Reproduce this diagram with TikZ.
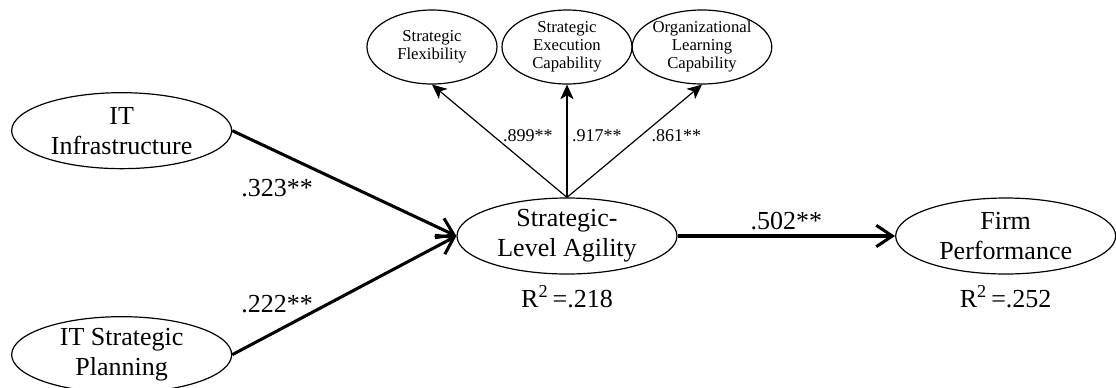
\documentclass[tikz,border=0pt]{standalone}
\usepackage{fontspec}
\setmainfont{Liberation Serif}
\usetikzlibrary{shapes.geometric,arrows.meta,positioning}

\begin{document}
\begin{tikzpicture}[on grid,
	construct/.style={ellipse,draw,line width=0.9pt,inner sep=0pt,minimum width=165pt,minimum height=57pt,align=center,font=\fontsize{19.5}{22.5}\selectfont},
	dimension/.style={ellipse,draw,line width=0.9pt,inner sep=0pt,minimum width=97.5pt,minimum height=55.5pt,align=center,font=\fontsize{12.5}{13.5}\selectfont},
	effect/.style={line width=2.3pt,-{Straight Barb[length=12pt,width=16pt]}},
	loading/.style={line width=0.9pt,-{Stealth[length=11pt,width=10pt,inset=3pt]}},
	coef/.style={font=\fontsize{19.5}{22}\selectfont},
	smallcoef/.style={font=\fontsize{13.5}{15}\selectfont}]
	\useasboundingbox (-425.25pt,-113.25pt) rectangle (411.75pt,177pt);
	\node[construct] (sla) {Strategic-\\Level Agility};
	\node[construct] (fp) [right=329pt of sla] {Firm\\Performance};
	\node[construct] (infra) [above left=79pt and 334pt of sla] {IT\\Infrastructure};
	\node[construct] (plan) [below left=89pt and 334pt of sla] {IT Strategic\\Planning};
	\node[dimension] (flex) [above left=141.75pt and 101.25pt of sla] {Strategic\\Flexibility};
	\node[dimension] (exec) [above=141.75pt of sla] {Strategic\\Execution\\Capability};
	\node[dimension] (learn) [above right=141.75pt and 101.25pt of sla] {Organizational\\Learning\\Capability};
	\node[coef] (r1) [below=45.75pt of sla] {R\textsuperscript{2}\,=.218};
	\node[coef] (r2) [below=45.75pt of fp] {R\textsuperscript{2}\,=.252};
	\path[effect]
	(infra.east) edge node[coef,pos=.2,yshift=-27pt] {.323**} (sla.west)
	(plan.east) edge node[coef,pos=.2,yshift=20pt] {.222**} (sla.west)
	(sla.east) edge node[coef,above] {.502**} (fp.west);
	\path[loading]
	(sla.north) edge node[smallcoef,pos=.55,right,xshift=4pt] {.899**} (flex.south)
		 edge node[smallcoef,pos=.55,right] {.917**} (exec.south)
		 edge node[smallcoef,pos=.55,right,xshift=4pt] {.861**} (learn.south)
	;
\end{tikzpicture}
\end{document}
